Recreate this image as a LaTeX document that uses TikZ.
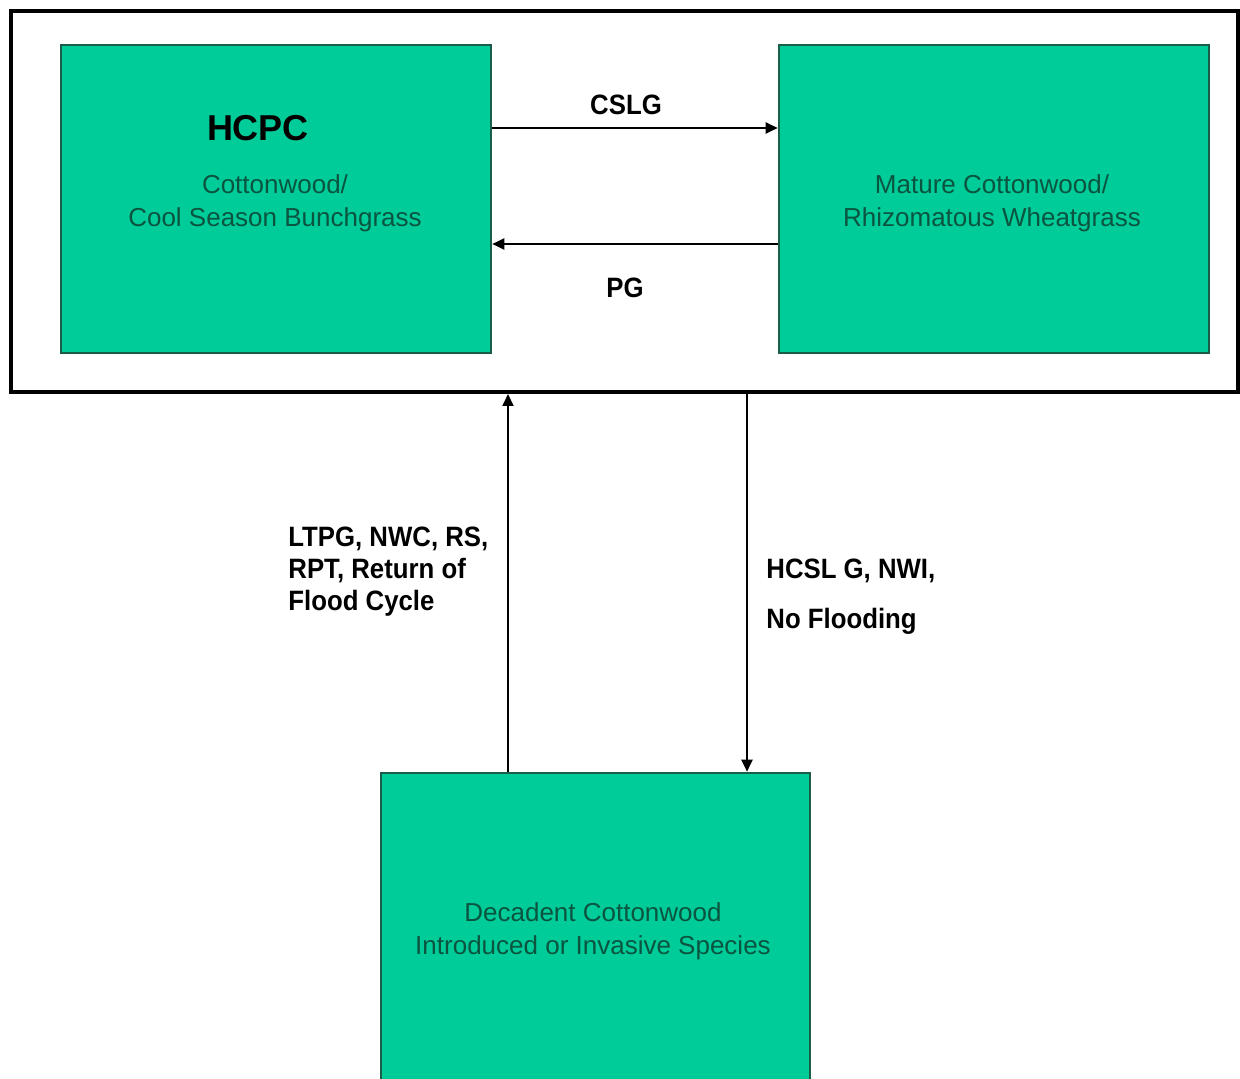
\documentclass[tikz,border=0pt]{standalone}
\usepackage{fontspec}
\setmainfont{Liberation Sans}
\newfontfamily\lblfont{Liberation Sans}[FakeStretch=0.92]
\usetikzlibrary{arrows.meta}
\definecolor{boxgreen}{HTML}{00CC99}
\definecolor{boxedge}{HTML}{1A5E48}
\definecolor{txtgreen}{HTML}{0A5440}
\tikzset{
  statebox/.style={draw=boxedge, line width=1.3pt, fill=boxgreen, rectangle,
    minimum width=215pt, minimum height=154pt, inner sep=0pt},
  statetext/.style={text=txtgreen, font=\fontsize{13}{16.5}\selectfont, align=center, inner sep=0pt},
  lbl/.style={font=\lblfont\bfseries\fontsize{14}{16}\selectfont, inner sep=0pt},
  arr/.style={line width=1pt, -{Triangle[length=6pt,width=5.5pt]}},
}
\begin{document}
\begin{tikzpicture}[x=0.5pt, y=-0.5pt]
\useasboundingbox (0,0) rectangle (1240,1079);
\clip (0,0) rectangle (1240,1079);
\fill[white] (0,0) rectangle (1240,1079);
% outer frame
\node[draw=black, line width=2pt, rectangle, minimum width=613.5pt, minimum height=190.5pt, inner sep=0pt] (outer) at (624.5,201.5) {};
% state boxes
\node[statebox] (hcpc) at (276,199) {};
\node[statebox] (mature) at (994,199) {};
\node[statebox, minimum width=214.5pt, minimum height=156pt] (decadent) at (595.5,929) {};
% box texts
\node[font=\bfseries\fontsize{18}{20}\selectfont, inner sep=0pt] (hcpcttl) at (258,128) {HCPC};
\node[statetext] (hcpctxt) at (275,203.5) {Cottonwood/\\Cool Season Bunchgrass};
\node[statetext] (maturetxt) at (992,203.5) {Mature Cottonwood/\\Rhizomatous Wheatgrass};
\node[statetext] (decadenttxt) at (593,931.5) {Decadent Cottonwood\\Introduced or Invasive Species};
% horizontal transitions
\draw[arr] ([yshift=35.5pt]hcpc.east) -- ([yshift=35.5pt]mature.west);
\draw[arr] ([yshift=-22.5pt]mature.west) -- ([yshift=-22.5pt]hcpc.east);
\node[lbl] (cslg) at (626,105) {CSLG};
\node[lbl] (pg) at (625,288) {PG};
% vertical transitions
\draw[arr] ([xshift=-43.75pt]decadent.north) -- ([xshift=-43.75pt]decadent.north |- outer.south);
\draw[arr] ([xshift=75.75pt]decadent.north |- outer.south) -- ([xshift=75.75pt]decadent.north);
\node[lbl, anchor=west, align=left] (uplbl) at (288,572) {LTPG, NWC, RS,\\RPT, Return of\\Flood Cycle};
\node[lbl, anchor=west, align=left, font=\lblfont\bfseries\fontsize{14}{25}\selectfont] (downlbl) at (766,597) {HCSL G, NWI,\\No Flooding};
\end{tikzpicture}
\end{document}
